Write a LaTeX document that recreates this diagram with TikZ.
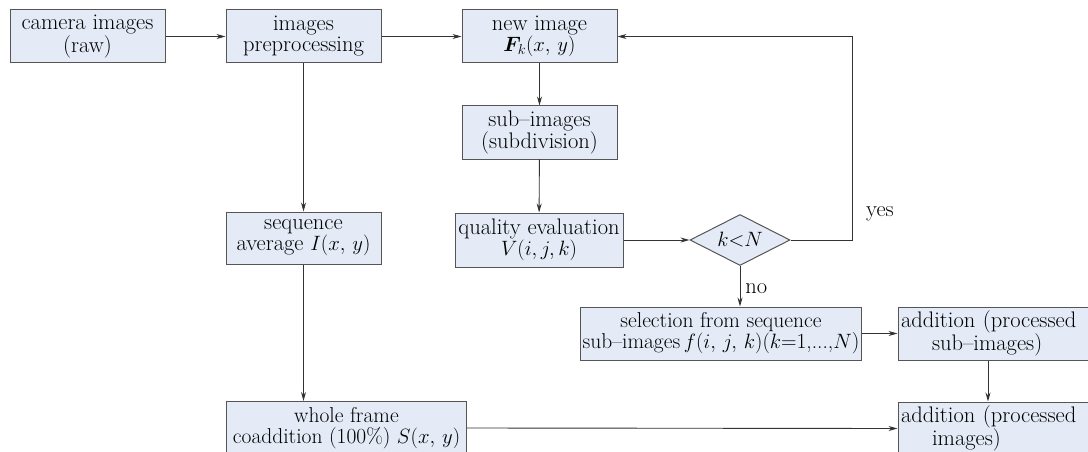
\documentclass[tikz,border=0pt]{standalone}
\usepackage{bm}
\usetikzlibrary{arrows.meta,shapes.geometric}
\definecolor{boxfill}{RGB}{228,235,247}
\definecolor{boxline}{RGB}{85,85,85}
\begin{document}
\begin{tikzpicture}[x=1pt,y=-1pt,
  every node/.style={font=\fontsize{22.5}{21}\selectfont},
  box/.style={draw=boxline, fill=boxfill, line width=1pt, align=center, inner sep=1pt,
    minimum width=155pt, minimum height=53pt},
  smalltext/.style={font=\fontsize{21.5}{21}\selectfont, inner sep=0pt},
  dec/.style={draw=boxline, fill=boxfill, line width=1pt, diamond, aspect=2, inner sep=0pt,
    minimum width=100pt, minimum height=51pt},
  arr/.style={draw=black!80, line width=0.9pt, -{Stealth[length=9pt,width=5pt]}},
  lbl/.style={inner sep=0pt}]
\useasboundingbox (0,0) rectangle (1088,452);
\node[box] (cam) at (87.5,36.5) {camera images\\(raw)};
\node[box] (pre) at (303.5,36.5) {images\\preprocessing};
\node[box] (new) at (539.5,36.5) {new image\\$\bm{F}_{k}(x,\,y)$};
\node[box] (sub) at (539.5,132.5) {sub--images\\(subdivision)};
\node[box, minimum width=168pt, minimum height=54pt] (qual) at (539,240) {quality evaluation\\$V(i,j,k)$};
\node[dec] (dia) at (740,240) {$k{<}N$};
\node[box, minimum height=52pt] (seq) at (303.5,238) {sequence\\average $I(x,\,y)$};
\node[box, smalltext, minimum width=281pt] (sel) at (721,333.5) {selection from sequence\\sub--images\,$f(i,\,j,\,k)(k$=1,...,$N$)};
\node[box, smalltext, minimum width=240pt] (whole) at (346.5,428) {whole frame\\coaddition (100\%) $S(x,\,y)$};
\node[box, minimum width=210pt, align=left, text width=204pt] (adds) at (1003,333.5) {addition (processed\\\hspace*{31pt}sub--images)};
\node[box, minimum width=210pt, align=left, text width=204pt] (addi) at (1003,428.5) {addition (processed\\\hspace*{31pt}images)};
\node[lbl] (yes) at (880,214) {yes};

\draw[arr] (cam) -- (pre);
\draw[arr] (pre) -- (new);
\draw[arr] (new) -- (sub);
\draw[arr] (sub) -- (qual);
\draw[arr] (qual) -- (dia);
\draw[arr] (dia.east) -- (852,240) |- (new.east);
\draw[arr] (dia.south) -- node[right, inner sep=5pt, yshift=-2pt] {no} (dia.south |- sel.north);
\draw[arr] (sel) -- (adds);
\draw[arr] (adds.south -| 988,0) -- (addi.north -| 988,0);
\draw[arr] (pre) -- (seq);
\draw[arr, line width=1.2pt] (seq) -- (seq.south |- whole.north);
\draw[arr] (whole.east) -- (addi.west);
\end{tikzpicture}
\end{document}
